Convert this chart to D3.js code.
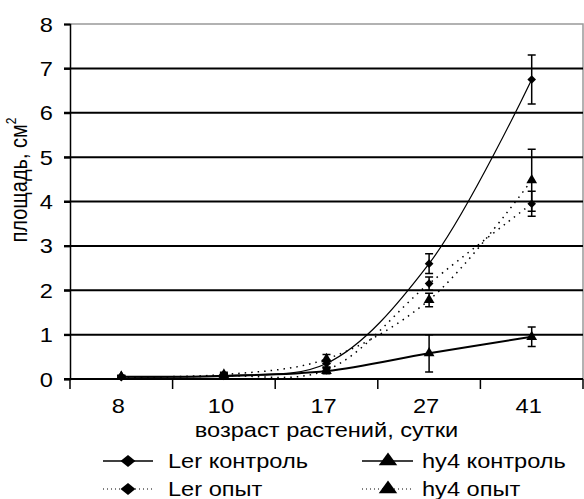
<!DOCTYPE html>
<html>
<head>
<meta charset="utf-8">
<script src="https://cdn.jsdelivr.net/npm/d3@7"></script>
<style>
  body { margin: 0; background: #fff; }
  svg { font-family: "Liberation Sans", Arial, sans-serif; }
</style>
</head>
<body>
<svg width="584" height="499"></svg>
<script>
// ages (days)
var categories = ["8", "10", "17", "27", "41"];
var yTicks = [0, 1, 2, 3, 4, 5, 6, 7, 8];

// leaf area, cm2, with error bars
var lerControl    = [0.05, 0.08, 0.35, 2.6, 6.75];
var lerControlErr = [0.03, 0.04, 0.08, 0.22, 0.55];
var lerExp        = [0.04, 0.07, 0.2, 2.15, 3.95];
var lerExpErr     = [0.03, 0.04, 0.06, 0.15, 0.28];
var hy4Control    = [0.05, 0.07, 0.18, 0.58, 0.95];
var hy4ControlErr = [0.03, 0.04, 0.06, 0.42, 0.22];
var hy4Exp        = [0.05, 0.1, 0.45, 1.78, 4.48];
var hy4ExpErr     = [0.03, 0.05, 0.1, 0.15, 0.7];

var series = [
  { name: "Ler контроль", values: lerControl, err: lerControlErr, diamond: true, dash: null, width: 1.2 },
  { name: "hy4 контроль", values: hy4Control, err: hy4ControlErr, diamond: false, dash: null, width: 2 },
  { name: "Ler опыт", values: lerExp, err: lerExpErr, diamond: true, dash: "1.5,5", width: 1.5 },
  { name: "hy4 опыт", values: hy4Exp, err: hy4ExpErr, diamond: false, dash: "1.5,5", width: 1.5 }
];

var svg = d3.select("svg"),
    pLeft = 70, pRight = 583, pTop = 24, pBottom = 379,
    sx = 1.18; // source glyphs are wider than Arial

var x = d3.scaleBand().domain(categories).range([pLeft, pRight]).paddingInner(0).paddingOuter(0);
var y = d3.scaleLinear().domain([0, 8]).range([pBottom, pTop]);
var cx = function(i) { return x(categories[i]) + x.bandwidth() / 2; };

// diamond = square turned 45deg, triangle = d3 triangle
function marker(s, size) {
  return s.diamond ? d3.symbol().type(d3.symbolSquare).size(size * 0.75)() : d3.symbol().type(d3.symbolTriangle).size(size)();
}
function markerRot(s) { return s.diamond ? " rotate(45)" : ""; }

// plot frame (top and right, grey)
svg.append("path")
    .attr("d", "M" + pLeft + "," + y(8) + "H" + pRight + "V" + pBottom)
    .attr("fill", "none").attr("stroke", "#999").attr("stroke-width", 1.5);

// gridlines
svg.append("g").selectAll("line")
  .data(yTicks.filter(function(d) { return d > 0 && d < 8; }))
  .enter().append("line")
    .attr("x1", pLeft - 6).attr("x2", pRight)
    .attr("y1", function(d) { return y(d); }).attr("y2", function(d) { return y(d); })
    .attr("stroke", "#000").attr("stroke-width", 2);

// y axis
var yAxis = svg.append("g")
    .attr("transform", "translate(" + pLeft + ",0)")
    .call(d3.axisLeft(y).tickValues(yTicks).tickSize(6).tickFormat(d3.format("d")));
yAxis.select(".domain").attr("stroke", "#000").attr("stroke-width", 1.5);
yAxis.selectAll(".tick line").attr("stroke", "#000").attr("stroke-width", 2);
yAxis.selectAll(".tick text")
    .attr("x", null).attr("dy", "0.35em")
    .attr("transform", "translate(-17,0) scale(" + sx + ",1)")
    .attr("font-size", 20).attr("fill", "#000").attr("font-family", "Liberation Sans, Arial, sans-serif");

// x axis
var xAxis = svg.append("g")
    .attr("transform", "translate(0," + pBottom + ")")
    .call(d3.axisBottom(x).tickSize(0));
xAxis.select(".domain").remove();
xAxis.selectAll(".tick text")
    .attr("y", null).attr("dy", null)
    .attr("transform", "translate(-3,34) scale(" + sx + ",1)")
    .attr("font-size", 20).attr("fill", "#000").attr("font-family", "Liberation Sans, Arial, sans-serif");
svg.append("line")
    .attr("x1", pLeft - 6).attr("x2", pRight).attr("y1", pBottom).attr("y2", pBottom)
    .attr("stroke", "#000").attr("stroke-width", 2);
svg.append("g").selectAll("line")
  .data(categories.map(function(c) { return x(c); }).concat([pRight]))
  .enter().append("line")
    .attr("x1", function(d) { return d; }).attr("x2", function(d) { return d; })
    .attr("y1", pBottom).attr("y2", pBottom + 10)
    .attr("stroke", "#000").attr("stroke-width", 1.5);

// axis titles
svg.append("text")
    .attr("transform", "translate(" + (pLeft + pRight) / 2 + ",437) scale(" + sx + ",1)")
    .attr("text-anchor", "middle").attr("font-size", 20)
    .text("возраст растений, сутки");

var yt = svg.append("text")
    .attr("transform", "translate(27,180) rotate(-90) scale(1," + sx + ")")
    .attr("text-anchor", "middle").attr("font-size", 20);
yt.append("tspan").text("площадь, см");
yt.append("tspan").attr("font-size", 12).attr("dy", -9).text("2");

// lines
var line = d3.line()
    .x(function(d, i) { return cx(i); })
    .y(function(d) { return y(d); })
    .curve(d3.curveCatmullRom);

svg.append("g").selectAll("path")
  .data(series)
  .enter().append("path")
    .attr("d", function(s) { return line(s.values); })
    .attr("fill", "none").attr("stroke", "#000")
    .attr("stroke-width", function(s) { return s.width; })
    .attr("stroke-dasharray", function(s) { return s.dash; });

// error bars and markers
series.forEach(function(s) {
  var g = svg.append("g");
  s.values.forEach(function(v, i) {
    var lo = y(v - s.err[i]), hi = y(v + s.err[i]), px = cx(i);
    g.append("path")
      .attr("d", "M" + px + "," + lo + "V" + hi + "M" + (px - 4) + "," + lo + "H" + (px + 4) + "M" + (px - 4) + "," + hi + "H" + (px + 4))
      .attr("stroke", "#000").attr("stroke-width", 1.5).attr("fill", "none");
    g.append("path")
      .attr("transform", "translate(" + px + "," + y(v) + ")" + markerRot(s))
      .attr("d", marker(s, 50))
      .attr("fill", "#000");
  });
});

// legend
var legendPos = [[103, 461], [362, 461], [103, 489], [362, 489]];
var lg = svg.append("g").selectAll("g")
  .data(series)
  .enter().append("g")
    .attr("transform", function(s, i) { return "translate(" + legendPos[i][0] + "," + legendPos[i][1] + ")"; });
lg.append("line")
    .attr("x1", 0).attr("x2", function(s, i) { return i % 2 ? 51 : 50; })
    .attr("stroke", "#000")
    .attr("stroke-width", function(s) { return s.dash ? 1 : 1.5; })
    .attr("stroke-dasharray", function(s) { return s.dash ? "1,3" : null; });
lg.append("path")
    .attr("transform", function(s, i) {
      return "translate(" + (i % 2 ? 26 : 25) + ",0) scale(1.25,1)" + markerRot(s);
    })
    .attr("d", function(s) { return marker(s, 95); })
    .attr("fill", "#000");
lg.append("text")
    .attr("transform", function(s, i) { return "translate(" + (i % 2 ? 60 : 65) + ",7) scale(" + sx + ",1)"; })
    .attr("font-size", 20)
    .text(function(s) { return s.name; });
</script>
</body>
</html>
